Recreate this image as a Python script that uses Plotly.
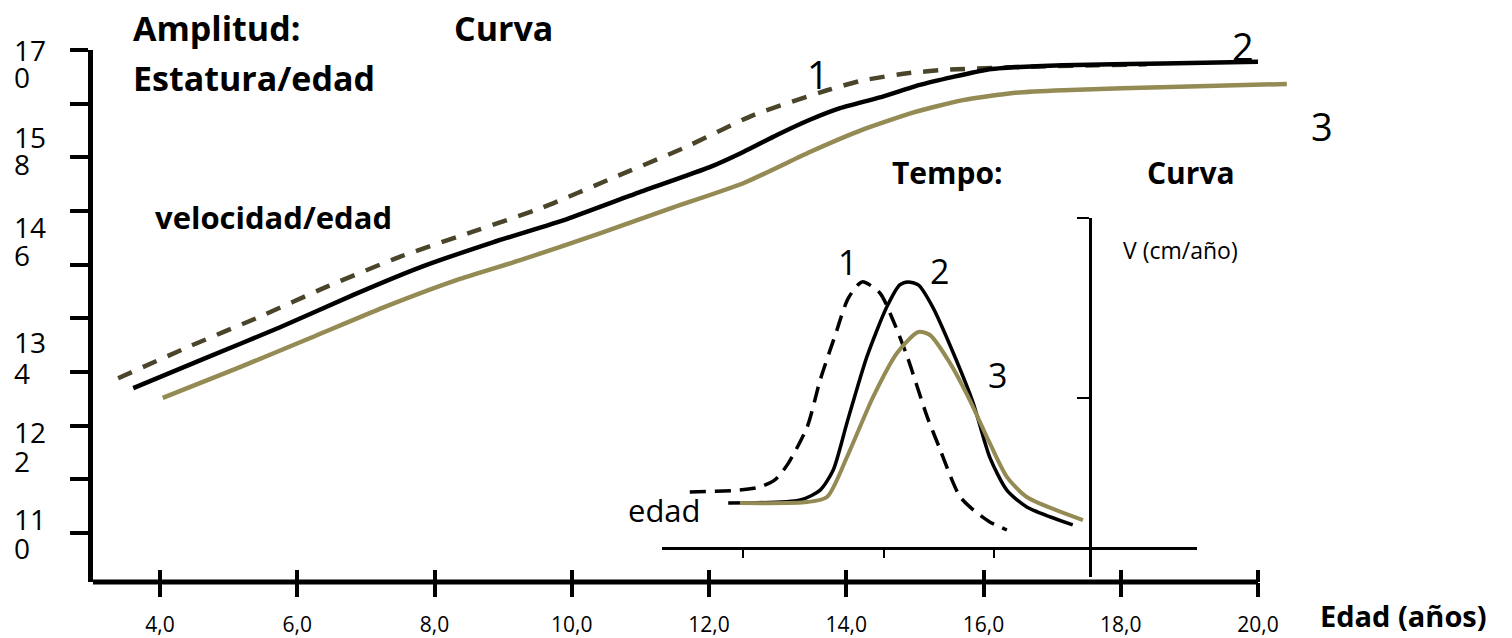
import plotly.graph_objects as go

# ---- curva estatura / edad (cm vs años) ----
edad_1 = [3.39, 4.41, 5.43, 6.45, 7.50, 8.56, 9.58, 10.60, 11.62, 12.64, 13.72, 14.24, 14.89, 15.47, 16.53, 17.65, 18.38]
talla_1 = [133.3, 136.8, 140.1, 143.6, 146.9, 149.7, 152.4, 155.7, 159.0, 162.7, 165.5, 166.6, 167.4, 167.8, 168.1, 168.3, 168.4]

edad_2 = [3.61, 4.68, 5.75, 6.81, 7.79, 8.85, 9.93, 10.99, 12.01, 12.50, 12.99, 13.47, 13.91, 14.49, 15.07, 15.56,
          16.05, 16.53, 17.16, 18.62, 20.0]
talla_2 = [132.2, 135.6, 139.0, 142.6, 145.7, 148.5, 151.1, 154.1, 156.9, 158.6, 160.5, 162.2, 163.5, 164.7, 166.1,
           167.0, 167.8, 168.1, 168.3, 168.5, 168.7]

edad_3 = [4.04, 5.12, 6.19, 7.25, 8.33, 9.25, 10.41, 11.48, 12.50, 13.47, 14.24, 14.97, 15.70, 16.43, 17.16, 18.86, 20.42]
talla_3 = [131.1, 134.4, 137.8, 141.2, 144.3, 146.5, 149.5, 152.4, 155.1, 158.6, 161.1, 163.0, 164.4, 165.2, 165.5,
           165.9, 166.2]

# ---- curva velocidad / edad (cm/año) ----
vel_edad_1 = [11.72, 12.45, 12.74, 12.96, 13.14, 13.43, 13.62, 13.84, 14.03, 14.23, 14.49, 14.68, 14.89, 15.18,
              15.37, 15.54, 15.66, 15.85, 16.09, 16.34]
vel_1 = [1.87, 1.93, 2.03, 2.27, 2.77, 4.03, 5.60, 7.10, 8.33, 8.87, 8.50, 7.60, 6.37, 4.37, 3.27, 2.27, 1.70,
         1.27, 0.87, 0.60]

vel_edad_2 = [12.28, 13.33, 13.62, 13.81, 14.01, 14.30, 14.59, 14.78, 14.90, 15.05, 15.26, 15.56, 15.85, 16.09,
              16.34, 16.63, 17.30]
vel_2 = [1.50, 1.60, 1.93, 2.60, 4.17, 6.37, 8.03, 8.77, 8.87, 8.77, 8.03, 6.50, 4.83, 3.03, 1.93, 1.37, 0.77]

vel_edad_3 = [12.45, 13.43, 13.72, 14.01, 14.39, 14.74, 15.05, 15.22, 15.51, 15.80, 16.09, 16.34, 16.63, 17.45]
vel_3 = [1.50, 1.53, 1.70, 3.03, 5.03, 6.50, 7.20, 7.10, 6.17, 4.93, 3.50, 2.37, 1.70, 0.93]

# ejes
x_ticks = [4, 6, 8, 10, 12, 14, 16, 18, 20]
x_tick_labels = ["4,0", "6,0", "8,0", "10,0", "12,0", "14,0", "16,0", "18,0", "20,0"]
y_ticks = [170, 164, 158, 152, 146, 140, 134, 128, 122, 116]
y_label_top = ["17", "15", "14", "13", "12", "11"]
y_label_bottom = ["0", "8", "6", "4", "2", "0"]
inset_x_ticks = [12.5, 14.55, 16.15]
inset_y_ticks = [5, 11]

OLIVE = "#948A54"
DARK_OLIVE = "#4A452A"
FONT = "Open Sans"

W, H = 1512, 638
L, R, T, B = 93, 0, 50, 56


def px_x(px):
    return (px - L) / (W - L - R)


def px_y(py):
    return (H - B - py) / (H - T - B)


x_range = [4 - (160 - 93) / 68.625, 20 + (1512 - 1258) / 68.625]
y_range = [110.52, 170]

fig = go.Figure()

fig.add_trace(go.Scatter(x=edad_1, y=talla_1, mode="lines", line=dict(color=DARK_OLIVE, width=4.5, dash="15px,12px",
                                                                          shape="spline", smoothing=0.5)))
fig.add_trace(go.Scatter(x=edad_2, y=talla_2, mode="lines", line=dict(color="black", width=4.5,
                                                                          shape="spline", smoothing=0.5)))
fig.add_trace(go.Scatter(x=edad_3, y=talla_3, mode="lines", line=dict(color=OLIVE, width=4.5,
                                                                          shape="spline", smoothing=0.5)))
# traza vacía para el eje de marcas interiores
fig.add_trace(go.Scatter(x=[], y=[], xaxis="x2", yaxis="y"))

# inset velocidad
fig.add_trace(go.Scatter(x=vel_edad_1, y=vel_1, mode="lines", xaxis="x3", yaxis="y3",
                         line=dict(color="black", width=3.5, dash="16px,9px", shape="spline", smoothing=0.7)))
fig.add_trace(go.Scatter(x=vel_edad_2, y=vel_2, mode="lines", xaxis="x3", yaxis="y3",
                         line=dict(color="black", width=3.5, shape="spline", smoothing=0.7)))
fig.add_trace(go.Scatter(x=vel_edad_3, y=vel_3, mode="lines", xaxis="x3", yaxis="y3",
                         line=dict(color=OLIVE, width=4, shape="spline", smoothing=0.7)))

annotations = []


def txt(text, px, py, size, bold=False, xanchor="left", yanchor="middle", height=None):
    ann = dict(text="<b>%s</b>" % text if bold else text, x=px_x(px), y=px_y(py),
               xref="paper", yref="paper", xanchor=xanchor, yanchor=yanchor,
               showarrow=False, font=dict(family=FONT, size=size, color="black"))
    if height:
        ann["height"] = height
    annotations.append(ann)


top_pos = [50, 137, 227, 342, 432, 519]
bot_pos = [77, 164, 255, 373, 461, 548]
for lab, py in zip(y_label_top, top_pos):
    txt(lab, 12, py, 28, height=24)
for lab, py in zip(y_label_bottom, bot_pos):
    txt(lab, 12, py, 28, height=24)

txt("Amplitud:", 131, 28, 34, bold=True)
txt("Curva", 452, 28, 34, bold=True)
txt("Estatura/edad", 131, 78, 34, bold=True)
txt("velocidad/edad", 153, 217, 31, bold=True)
txt("Tempo:", 890, 172, 30, bold=True)
txt("Curva", 1145, 172, 30, bold=True)
txt("Edad (años)", 1318, 637, 29, bold=True, yanchor="bottom")
txt("V (cm/año)", 1121, 250, 23)
txt("edad", 626, 510, 31)
txt("1", 818, 74, 38, xanchor="center")
txt("2", 1243, 46, 38, xanchor="center")
txt("3", 1322, 126, 38, xanchor="center")
txt("1", 848, 262, 34, xanchor="center")
txt("2", 940, 271, 34, xanchor="center")
txt("3", 997, 375, 34, xanchor="center")

fig.update_layout(
    width=W, height=H,
    margin=dict(l=L, r=R, t=T, b=B),
    paper_bgcolor="white",
    plot_bgcolor="rgba(0,0,0,0)",
    showlegend=False,
    hovermode=False,
    xaxis=dict(range=x_range, automargin=False, showgrid=False, zeroline=False, showline=False,
               tickvals=x_ticks, ticktext=x_tick_labels, ticks="outside", ticklen=14, tickwidth=4,
               tickcolor="black", ticklabelstandoff=10,
               tickfont=dict(family=FONT, size=21, color="black")),
    xaxis2=dict(range=x_range, overlaying="x", anchor="y", automargin=False, showgrid=False, zeroline=False,
                showline=False, tickvals=x_ticks, ticks="inside", ticklen=12, tickwidth=4, tickcolor="black",
                showticklabels=False),
    yaxis=dict(range=y_range, automargin=False, showgrid=False, zeroline=False, showline=True, linecolor="black",
               linewidth=5, tickvals=y_ticks, ticks="outside", ticklen=18, tickwidth=4, tickcolor="black",
               showticklabels=False),
    xaxis3=dict(domain=[px_x(662), px_x(1197)], range=[11.315, 19.111], anchor="free", position=px_y(548),
                automargin=False, showgrid=False, zeroline=False, showline=True, linecolor="black", linewidth=3,
                tickvals=inset_x_ticks, ticks="outside", ticklen=8, tickwidth=2, tickcolor="black",
                showticklabels=False),
    yaxis3=dict(domain=[px_y(577), px_y(218)], range=[-0.967, 11], anchor="free", position=px_x(1090),
                side="left", automargin=False, showgrid=False, zeroline=False, showline=True, linecolor="black",
                linewidth=3, tickvals=inset_y_ticks, ticks="outside", ticklen=12, tickwidth=2,
                tickcolor="black", showticklabels=False),
    shapes=[dict(type="line", xref="x", yref="paper", x0=x_range[0], x1=20, y0=0, y1=0,
                 line=dict(color="black", width=5), layer="above")],
    annotations=annotations,
)

# sin margen del body para que la figura ocupe la ventana completa
fig.write_html("out.html", config={"displayModeBar": False},
               post_script="document.body.style.margin='0px';")
